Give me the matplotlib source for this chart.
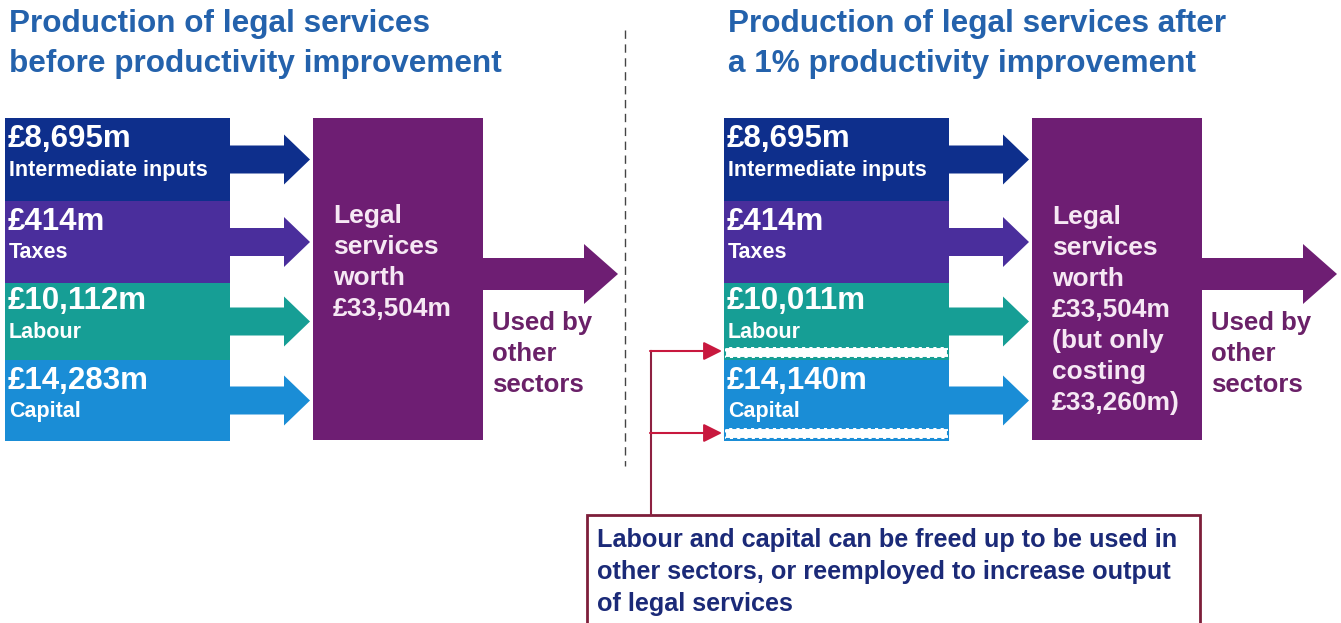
import matplotlib
matplotlib.use("Agg")
import matplotlib.pyplot as plt
from matplotlib.patches import Rectangle, FancyArrow

# values in £m
row_names = ["Intermediate inputs", "Taxes", "Labour", "Capital"]
before_values = [8695, 414, 10112, 14283]
after_values = [8695, 414, 10011, 14140]
output_worth = 33504
output_cost_after = 33260

row_colors = ["#0E2F8C", "#4A2E9C", "#169E95", "#1A8DD6"]
purple = "#6E1E73"
title_blue = "#2462AC"
used_color = "#6A2168"
note_red = "#8E2142"
head_red = "#C8183E"
note_text = "#1B2A78"

titles = ["Production of legal services\nbefore productivity improvement",
          "Production of legal services after\na 1% productivity improvement"]
note = ("Labour and capital can be freed up to be used in\n"
        "other sectors, or reemployed to increase output\n"
        "of legal services")

FONT = ["Liberation Sans", "DejaVu Sans"]

fig = plt.figure(figsize=(13.41, 6.23), dpi=100)
ax = fig.add_axes([0, 0, 1, 1])
ax.set_xlim(0, 1341)
ax.set_ylim(623, 0)
ax.axis("off")

row_edges = [118, 201, 283, 360, 441]
stack_w = 225
box_w = 170
box_top, box_bot = 118, 440


def fmt(v):
    return "£{:,}m".format(v)


def panel(x0, values, title, box_text, freed):
    ax.text(x0 + 4, 44, title, fontsize=22.7, fontweight="bold", color=title_blue,
            family=FONT, va="center", ha="left", linespacing=1.4)
    for i, (name, v) in enumerate(zip(row_names, values)):
        top, bot = row_edges[i], row_edges[i + 1]
        ax.add_patch(Rectangle((x0, top), stack_w, bot - top, color=row_colors[i], lw=0))
        if freed and name in ("Labour", "Capital"):
            ax.add_patch(Rectangle((x0 + 1, bot - 13), stack_w - 2, 11, facecolor="white",
                                   edgecolor=row_colors[i], lw=1.5, ls=(0, (2, 1.5))))
        yc = (top + bot) / 2
        ax.text(x0 + 3, yc - 20, fmt(v), fontsize=22.5, fontweight="bold", color="white",
                family=FONT, va="center", ha="left")
        ax.text(x0 + 4, yc + 11, name, fontsize=15.5, fontweight="bold", color="white",
                family=FONT, va="center", ha="left")
        ax.add_patch(FancyArrow(x0 + stack_w, yc, 80, 0, width=28, head_width=50,
                                head_length=26, length_includes_head=True,
                                color=row_colors[i], lw=0))
    bx = x0 + stack_w + 83
    ax.add_patch(Rectangle((bx, box_top), box_w, box_bot - box_top, color=purple, lw=0))
    n = box_text.count("\n") + 1
    ax.text(bx + 20, 216 + (n - 1) * 31.3 / 2, box_text, fontsize=19, fontweight="bold",
            color="#F6E8F4", family=FONT, va="center", ha="left", linespacing=1.37)
    ax.add_patch(FancyArrow(bx + box_w, 274, 135, 0, width=32, head_width=60,
                            head_length=34, length_includes_head=True, color=purple, lw=0))
    ax.text(bx + box_w + 9, 354, "Used by\nother\nsectors", fontsize=18.5,
            fontweight="bold", color=used_color, family=FONT, va="center", ha="left",
            linespacing=1.36)


panel(5, before_values, titles[0],
      "Legal\nservices\nworth\n" + fmt(output_worth), False)
panel(724, after_values, titles[1],
      "Legal\nservices\nworth\n" + fmt(output_worth) + "\n(but only\ncosting\n"
      + fmt(output_cost_after) + ")", True)

# divider
ax.plot([625, 625], [30, 466], color="#444444", lw=1, dashes=(6, 4))

# freed-up connector
ax.plot([651, 651], [351, 515], color=note_red, lw=1.5)
for yy in (351, 433):
    ax.annotate("", xy=(722, yy), xytext=(650, yy),
                arrowprops=dict(arrowstyle="-|>", color=note_red, lw=1.5,
                                mutation_scale=28, fc=head_red, ec=head_red,
                                shrinkA=0, shrinkB=0))

ax.add_patch(Rectangle((587, 515), 613, 120, facecolor="white", edgecolor="#7D1E3A", lw=2))
ax.text(597, 572, note, fontsize=18.2, fontweight="bold", color=note_text, family=FONT,
        va="center", ha="left", linespacing=1.42)

fig.savefig("out.png", dpi=100)
